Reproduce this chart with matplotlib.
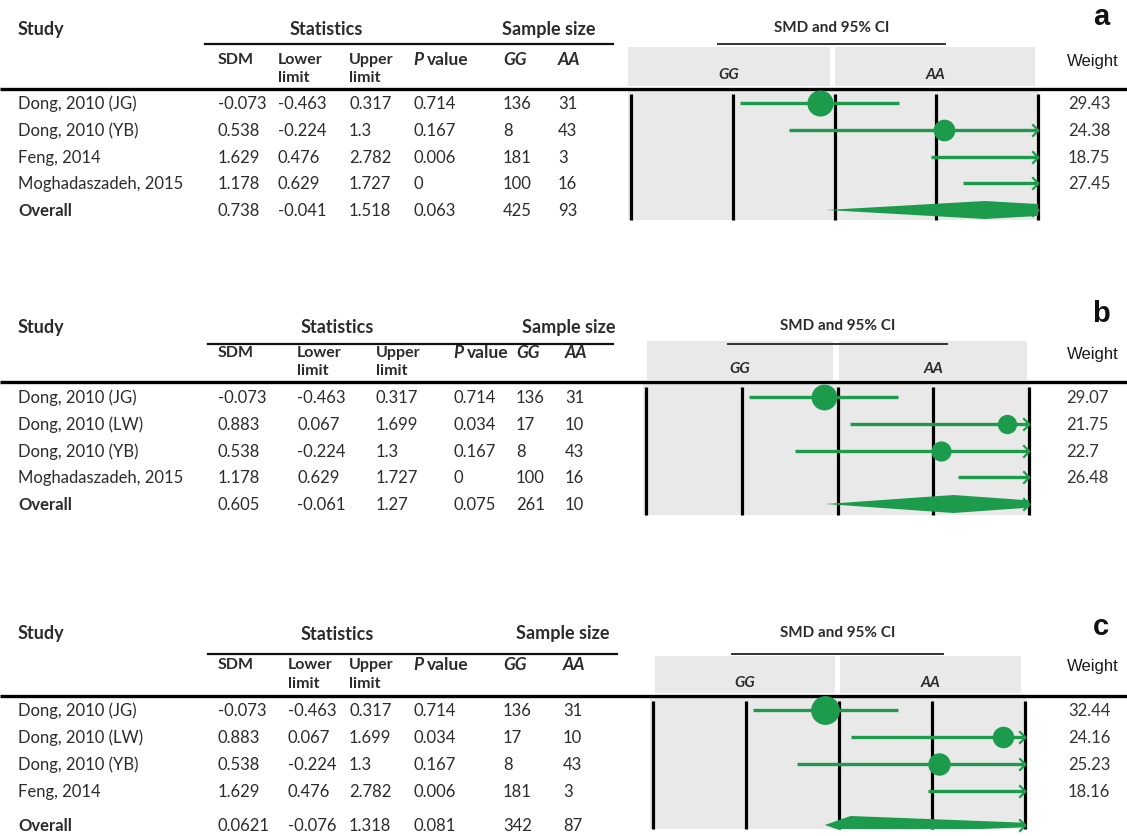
import matplotlib.pyplot as plt
from matplotlib.patches import Rectangle, Polygon
from matplotlib.path import Path

W, H = 1127, 837

# panel a
a_studies = ["Dong, 2010 (JG)", "Dong, 2010 (YB)", "Feng, 2014", "Moghadaszadeh, 2015", "Overall"]
a_sdm = [-0.073, 0.538, 1.629, 1.178, 0.738]
a_lower = [-0.463, -0.224, 0.476, 0.629, -0.041]
a_upper = [0.317, 1.3, 2.782, 1.727, 1.518]
a_p = [0.714, 0.167, 0.006, 0, 0.063]
a_gg = [136, 8, 181, 100, 425]
a_aa = [31, 43, 3, 16, 93]
a_weight = [29.43, 24.38, 18.75, 27.45]

# panel b
b_studies = ["Dong, 2010 (JG)", "Dong, 2010 (LW)", "Dong, 2010 (YB)", "Moghadaszadeh, 2015", "Overall"]
b_sdm = [-0.073, 0.883, 0.538, 1.178, 0.605]
b_lower = [-0.463, 0.067, -0.224, 0.629, -0.061]
b_upper = [0.317, 1.699, 1.3, 1.727, 1.27]
b_p = [0.714, 0.034, 0.167, 0, 0.075]
b_gg = [136, 17, 8, 100, 261]
b_aa = [31, 10, 43, 16, 10]
b_weight = [29.07, 21.75, 22.7, 26.48]

# panel c
c_studies = ["Dong, 2010 (JG)", "Dong, 2010 (LW)", "Dong, 2010 (YB)", "Feng, 2014", "Overall"]
c_sdm = [-0.073, 0.883, 0.538, 1.629, 0.0621]
c_lower = [-0.463, 0.067, -0.224, 0.476, -0.076]
c_upper = [0.317, 1.699, 1.3, 2.782, 1.318]
c_p = [0.714, 0.034, 0.167, 0.006, 0.081]
c_gg = [136, 17, 8, 181, 342]
c_aa = [31, 10, 43, 3, 87]
c_weight = [32.44, 24.16, 25.23, 18.16]

grid_x = [-1, -0.5, 0, 0.5, 1]

GREEN = "#1c9b4c"
GREY = "#e9e9e9"
TXT = "#2b2b2b"
FONT = "Lato"
ARIAL = "Liberation Sans"

# pixel layout of the three blocks
layouts = {
    "a": dict(title_y=29, rule_y=45, head_y=60, limit_y=78, box_y=(48, 87), thick_y=90,
              rows=[104, 131, 158, 184, 211], bottom=221,
              cols=[218, 278, 349, 413, 503, 558], stats=(205, 613), stats_c=326, sample_c=549,
              smd=(718, 945), x_lo=631, x_hi=1038, box1=(628, 830), box2=(835, 1035),
              weight_x=1068, letter_y=17),
    "b": dict(title_y=327, rule_y=345, head_y=353, limit_y=371, box_y=(342, 381), thick_y=383,
              rows=[398, 425, 452, 478, 505], bottom=516,
              cols=[218, 297, 376, 453, 516, 565], stats=(208, 613), stats_c=337, sample_c=569,
              smd=(728, 947), x_lo=646, x_hi=1029, box1=(647, 833), box2=(839, 1027),
              weight_x=1066, letter_y=314),
    "c": dict(title_y=634, rule_y=655, head_y=665, limit_y=684, box_y=(657, 694), thick_y=697,
              rows=[711, 738, 765, 792, 826], bottom=830,
              cols=[218, 288, 349, 413, 503, 563], stats=(208, 617), stats_c=337, sample_c=563,
              smd=(732, 943), x_lo=653, x_hi=1025, box1=(655, 835), box2=(840, 1021),
              weight_x=1068, letter_y=627),
}

panels = {
    "a": (a_studies, a_sdm, a_lower, a_upper, a_p, a_gg, a_aa, a_weight),
    "b": (b_studies, b_sdm, b_lower, b_upper, b_p, b_gg, b_aa, b_weight),
    "c": (c_studies, c_sdm, c_lower, c_upper, c_p, c_gg, c_aa, c_weight),
}

chevron_r = Path([(-1, 1), (0, 0), (-1, -1)], [Path.MOVETO, Path.LINETO, Path.LINETO])
chevron_l = Path([(1, 1), (0, 0), (1, -1)], [Path.MOVETO, Path.LINETO, Path.LINETO])

fig = plt.figure(figsize=(W / 100, H / 100), dpi=100)
ov = fig.add_axes([0, 0, 1, 1])
ov.set_xlim(0, W)
ov.set_ylim(H, 0)
ov.axis("off")


def txt(x, y, s, size=12, weight="normal", style="normal", ha="left", family=FONT, color=TXT):
    ov.text(x, y, s, fontsize=size, fontweight=weight, fontstyle=style, ha=ha, va="center",
            family=family, color=color)


def fmt(v):
    return f"{v:g}"


for key, (studies, sdm, lower, upper, pval, gg, aa, weight) in panels.items():
    L = layouts[key]
    cols = L["cols"]

    # table header
    txt(18, L["title_y"], "Study", size=13, weight="bold")
    txt(L["stats_c"], L["title_y"], "Statistics", size=13, weight="bold", ha="center")
    txt(L["sample_c"], L["title_y"], "Sample size", size=13, weight="bold", ha="center")
    ov.plot(L["stats"], [L["rule_y"]] * 2, color="#111111", lw=1.6)
    txt(cols[0], L["head_y"], "SDM", size=11.5, weight="bold")
    txt(cols[1], L["head_y"], "Lower", size=11.5, weight="bold")
    txt(cols[1], L["limit_y"], "limit", size=11.5, weight="bold")
    txt(cols[2], L["head_y"], "Upper", size=11.5, weight="bold")
    txt(cols[2], L["limit_y"], "limit", size=11.5, weight="bold")
    txt(cols[3], L["head_y"], "P", size=12.5, weight="bold", style="italic")
    txt(cols[3] + 14, L["head_y"], "value", size=12.5, weight="bold")
    txt(cols[4], L["head_y"], "GG", size=12.5, weight="bold", style="italic")
    txt(cols[5], L["head_y"], "AA", size=12.5, weight="bold", style="italic")

    # forest header
    smd_c = (L["smd"][0] + L["smd"][1]) / 2
    txt(smd_c, L["title_y"] - 1, "SMD and 95% CI", size=11, weight="bold", ha="center")
    ov.plot(L["smd"], [L["rule_y"]] * 2, color="#333333", lw=1.4)
    by0, by1 = L["box_y"]
    for (bx0, bx1), lab in zip((L["box1"], L["box2"]), ("GG", "AA")):
        ov.add_patch(Rectangle((bx0, by0), bx1 - bx0, by1 - by0, color=GREY, lw=0))
        txt((bx0 + bx1) / 2, by0 + 0.7 * (by1 - by0), lab, size=11, weight="bold", style="italic",
            ha="center")
    txt(1093, L["head_y"] + 1, "Weight", size=12, family=ARIAL, ha="center", color="#1a1a1a")
    txt(1101, L["letter_y"], key, size=21, weight="bold", family=ARIAL, ha="center", color="#111111")

    ov.plot([0, W], [L["thick_y"]] * 2, color="black", lw=2.4, solid_capstyle="butt")

    # table body
    for i, name in enumerate(studies):
        y = L["rows"][i]
        last = i == len(studies) - 1
        txt(18, y, name, weight="bold" if last else "normal")
        vals = [fmt(sdm[i]), fmt(lower[i]), fmt(upper[i]), fmt(pval[i]), str(gg[i]), str(aa[i])]
        for x, v in zip(cols, vals):
            txt(x, y, v)
        if not last:
            txt(L["weight_x"], y, fmt(weight[i]), size=12, color="#333333")

    # forest plot area
    top = L["thick_y"] + 2
    bot = L["bottom"]
    ov.add_patch(Rectangle((L["x_lo"] - 3, top), L["x_hi"] - L["x_lo"] + 4, bot - top, color=GREY, lw=0))
    ax = fig.add_axes([L["x_lo"] / W, 1 - bot / H, (L["x_hi"] - L["x_lo"]) / W, (bot - top) / H])
    ax.set_xlim(-1, 1)
    ax.set_ylim(bot, top)
    ax.axis("off")
    ax.vlines(grid_x, top + 3, bot, color="black", lw=2.3, clip_on=False, zorder=1)

    for i in range(len(studies) - 1):
        y = L["rows"][i]
        lo, hi = max(lower[i], -1), min(upper[i], 1)
        if lo < hi:
            ax.plot([lo, hi], [y, y], color=GREEN, lw=2.4, solid_capstyle="butt", zorder=3)
        if upper[i] > 1:
            ax.plot([1], [y], marker=chevron_r, ms=9, mfc="none", mec=GREEN, mew=1.6, clip_on=False, zorder=3)
        if lower[i] < -1:
            ax.plot([-1], [y], marker=chevron_l, ms=9, mfc="none", mec=GREEN, mew=1.6, clip_on=False, zorder=3)
        if -1 <= sdm[i] <= 1:
            ax.plot([sdm[i]], [y], "o", ms=0.64 * weight[i], color=GREEN, mec="none", clip_on=False, zorder=4)

    # pooled estimate
    y = L["rows"][-1]
    k = len(studies) - 1
    half = 9
    ax.add_patch(Polygon([(lower[k], y), (sdm[k], y - half), (upper[k], y), (sdm[k], y + half)],
                         closed=True, color=GREEN, lw=0, zorder=3))
    if upper[k] > 1:
        ax.plot([1], [y], marker=chevron_r, ms=9, mfc="none", mec=GREEN, mew=1.6, clip_on=False, zorder=3)

fig.savefig("out.png", dpi=100)
